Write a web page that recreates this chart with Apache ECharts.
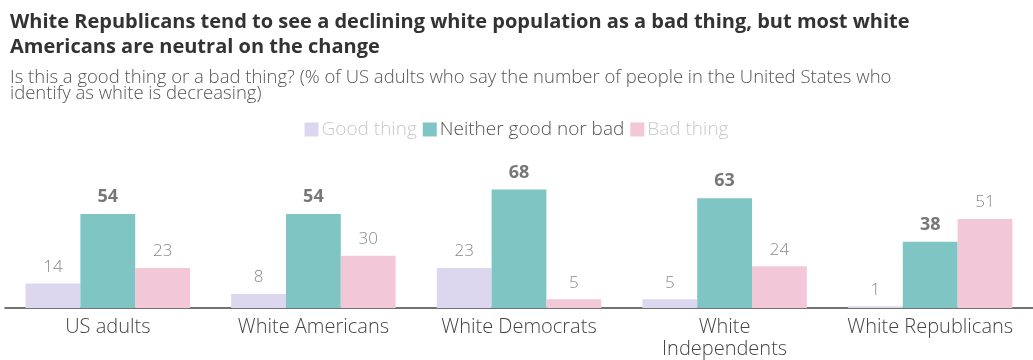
<!DOCTYPE html>
<html><head><meta charset="utf-8">
<script src="https://cdn.jsdelivr.net/npm/echarts@6/dist/echarts.min.js"></script>
<style>html,body{margin:0;padding:0;background:#fff}#c{width:1033px;height:360px}</style>
</head><body><div id="c"></div>
<script>
const categories = ['US adults', 'White Americans', 'White Democrats', 'White\nIndependents', 'White Republicans'];
const goodThing = [14, 8, 23, 5, 1];
const neither = [54, 54, 68, 63, 38];
const badThing = [23, 30, 5, 24, 51];
const seriesNames = ['Good thing', 'Neither good nor bad', 'Bad thing'];
const colors = ['#dcd7ef', '#7fc5c3', '#f2c8d8'];
const FONT = '"Open Sans", Lato, sans-serif';

const chart = echarts.init(document.getElementById('c'));
const lbl = (bold) => ({
  show: true, position: 'top', distance: 8,
  fontFamily: FONT, fontSize: bold ? 18 : 17, fontWeight: bold ? 'bold' : 300,
  color: bold ? '#777' : '#888'
});
chart.setOption({
  animation: false,
  textStyle: { fontFamily: FONT },
  title: [{
    left: 5, top: 5,
    text: 'White Republicans tend to see a declining white population as a bad thing, but most white\nAmericans are neutral on the change',
    textStyle: { fontFamily: FONT, fontSize: 20, fontWeight: 'bold', color: '#333', lineHeight: 25 }
  }, {
    left: 5, top: 65,
    text: 'Is this a good thing or a bad thing? (% of US adults who say the number of people in the United States who\nidentify as white is decreasing)',
    textStyle: { fontFamily: FONT, fontSize: 18.5, fontWeight: 300, color: '#555', lineHeight: 16 }
  }],
  legend: {
    top: 115, left: 'center', itemWidth: 14, itemHeight: 14, itemGap: 6, icon: 'rect',
    selectedMode: false,
    textStyle: { fontFamily: FONT, fontSize: 19, fontWeight: 300, padding: [0, 0, 0, -2] },
    data: [
      { name: seriesNames[0], textStyle: { color: '#c8c8c8' } },
      { name: seriesNames[1], textStyle: { color: '#555' } },
      { name: seriesNames[2], textStyle: { color: '#c8c8c8' } }
    ]
  },
  grid: { left: 5, right: 0, top: 186, bottom: 52 },
  xAxis: {
    type: 'category', data: categories,
    axisLine: { lineStyle: { color: '#444', width: 1.5 } },
    axisTick: { show: false },
    axisLabel: { fontFamily: FONT, fontSize: 20, fontWeight: 300, color: '#444', margin: 8, lineHeight: 22, interval: 0 }
  },
  yAxis: { type: 'value', min: 0, max: 70, show: false, splitLine: { show: false } },
  series: [
    { name: seriesNames[0], type: 'bar', data: goodThing, itemStyle: { color: colors[0] }, label: lbl(false), barGap: '0%', barCategoryGap: '20%' },
    { name: seriesNames[1], type: 'bar', data: neither, itemStyle: { color: colors[1] }, label: lbl(true), barGap: '0%', barCategoryGap: '20%' },
    { name: seriesNames[2], type: 'bar', data: badThing, itemStyle: { color: colors[2] }, label: lbl(false), barGap: '0%', barCategoryGap: '20%' }
  ]
});
</script></body></html>
